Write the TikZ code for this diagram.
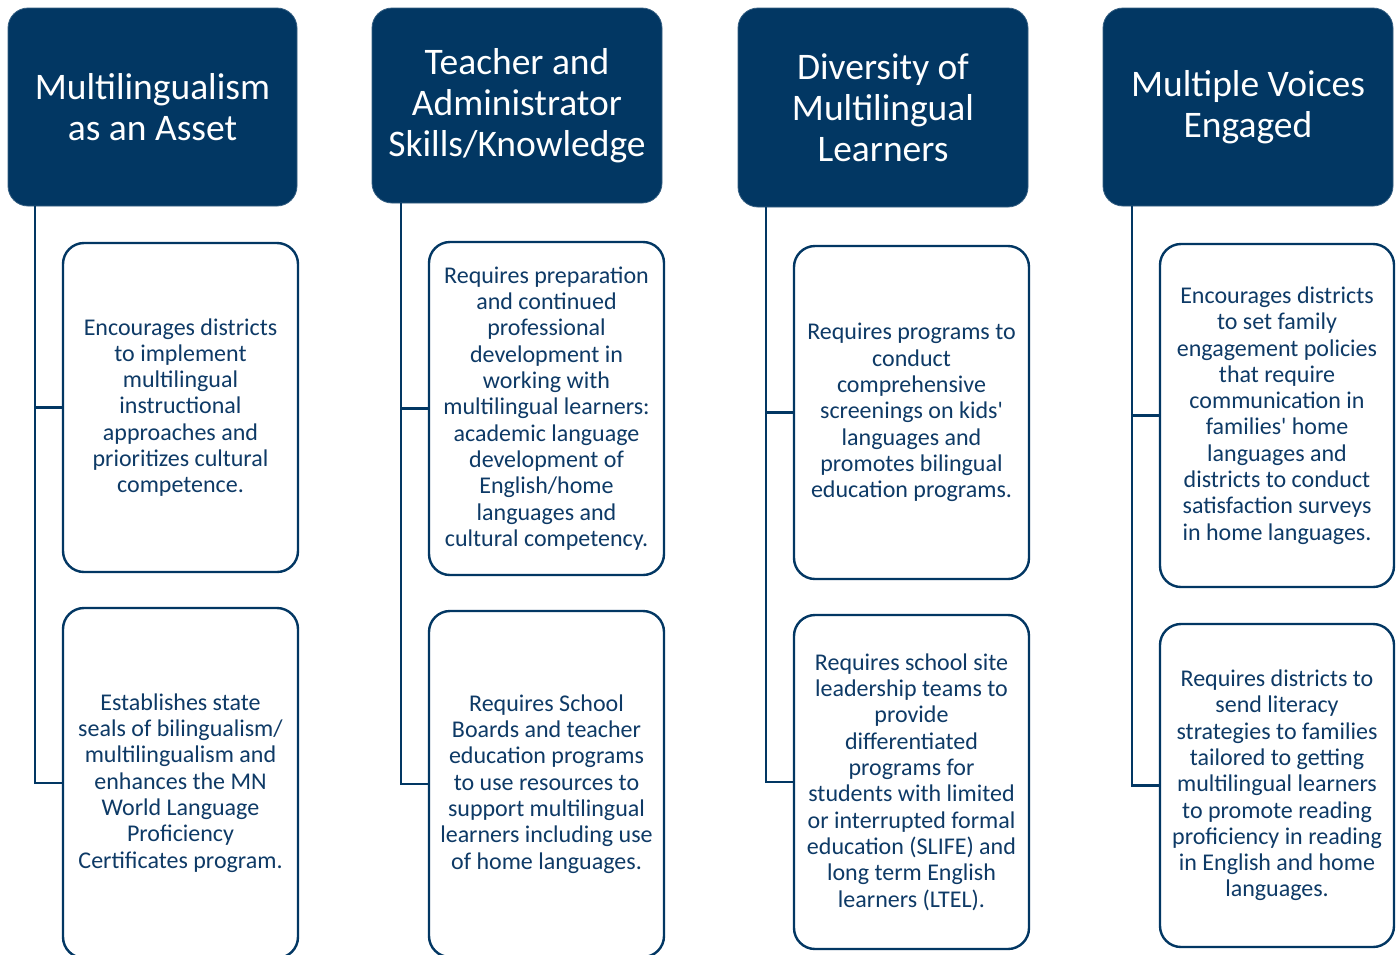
\documentclass[tikz,border=0pt]{standalone}
\usepackage{fontspec}
\setmainfont{Carlito}[Ligatures=TeXOff]
\definecolor{navy}{HTML}{023763}
\definecolor{navytext}{HTML}{0E3A66}
\begin{document}
\begin{tikzpicture}[x=1pt,y=-1pt,
  hdr/.style={draw=navy!80!white, line width=0.8pt, fill=navy, rounded corners=20pt, text=white, align=center,
    font=\fontsize{37.5}{41}\selectfont, inner sep=0pt},
  card/.style={draw=navy, line width=2.4pt, fill=white, rounded corners=21pt, text=navytext, align=center,
    font=\fontsize{24}{26.3}\selectfont, inner sep=0pt},
  link/.style={draw=navy, line width=2.4pt}]
\useasboundingbox (0,0) rectangle (1400,954);
\fill[white] (0,0) rectangle (1400,954);

% headers
\node[hdr, minimum width=289, minimum height=198] (h1) at (152.5,107) {Multilingualism\\as an Asset};
\node[hdr, minimum width=290, minimum height=195] (h2) at (517,105.5) {Teacher and\\Administrator\\Skills/Knowledge};
\node[hdr, minimum width=290, minimum height=199] (h3) at (883,107.5) {Diversity of\\Multilingual\\Learners};
\node[hdr, minimum width=290, minimum height=198] (h4) at (1248,107) {Multiple Voices\\Engaged};

% trunk coordinates
\coordinate (t1) at (35,206);
\coordinate (t2) at (401,203);
\coordinate (t3) at (766,207);
\coordinate (t4) at (1132,206);

% connectors
\draw[link] (t1) |- (180,783);
\draw[link] (t2) |- (546,784);
\draw[link] (t3) |- (911,782);
\draw[link] (t4) |- (1277,785.5);
\draw[link] (t1) |- (180,407.5);
\draw[link] (t2) |- (546,408.5);
\draw[link] (t3) |- (911,412.5);
\draw[link] (t4) |- (1277,415.5);

% cards
\node[card, minimum width=235, minimum height=329] (a1) at (180.5,407.5) {Encourages districts\\to implement\\multilingual\\instructional\\approaches and\\prioritizes cultural\\competence.};
\node[card, minimum width=235, minimum height=350] (b1) at (180.5,783) {Establishes state\\seals of bilingualism/\\multilingualism and\\enhances the MN\\World Language\\Proficiency\\Certificates program.};

\node[card, minimum width=235, minimum height=333] (a2) at (546.5,408.5) {Requires preparation\\and continued\\professional\\development in\\working with\\multilingual learners:\\academic language\\development of\\English/home\\languages and\\cultural competency.};
\node[card, minimum width=235, minimum height=346] (b2) at (546.5,784) {Requires School\\Boards and teacher\\education programs\\to use resources to\\support multilingual\\learners including use\\of home languages.};

\node[card, minimum width=235, minimum height=333] (a3) at (911.5,412.5) {Requires programs to\\conduct\\comprehensive\\screenings on kids'\\languages and\\promotes bilingual\\education programs.};
\node[card, minimum width=235, minimum height=334] (b3) at (911.5,782) {Requires school site\\leadership teams to\\provide\\differentiated\\programs for\\students with limited\\or interrupted formal\\education (SLIFE) and\\long term English\\learners (LTEL).};

\node[card, minimum width=234, minimum height=343] (a4) at (1277,415.5) {Encourages districts\\to set family\\engagement policies\\that require\\communication in\\families' home\\languages and\\districts to conduct\\satisfaction surveys\\in home languages.};
\node[card, minimum width=234, minimum height=323] (b4) at (1277,785.5) {Requires districts to\\send literacy\\strategies to families\\tailored to getting\\multilingual learners\\to promote reading\\proficiency in reading\\in English and home\\languages.};
\end{tikzpicture}
\end{document}
